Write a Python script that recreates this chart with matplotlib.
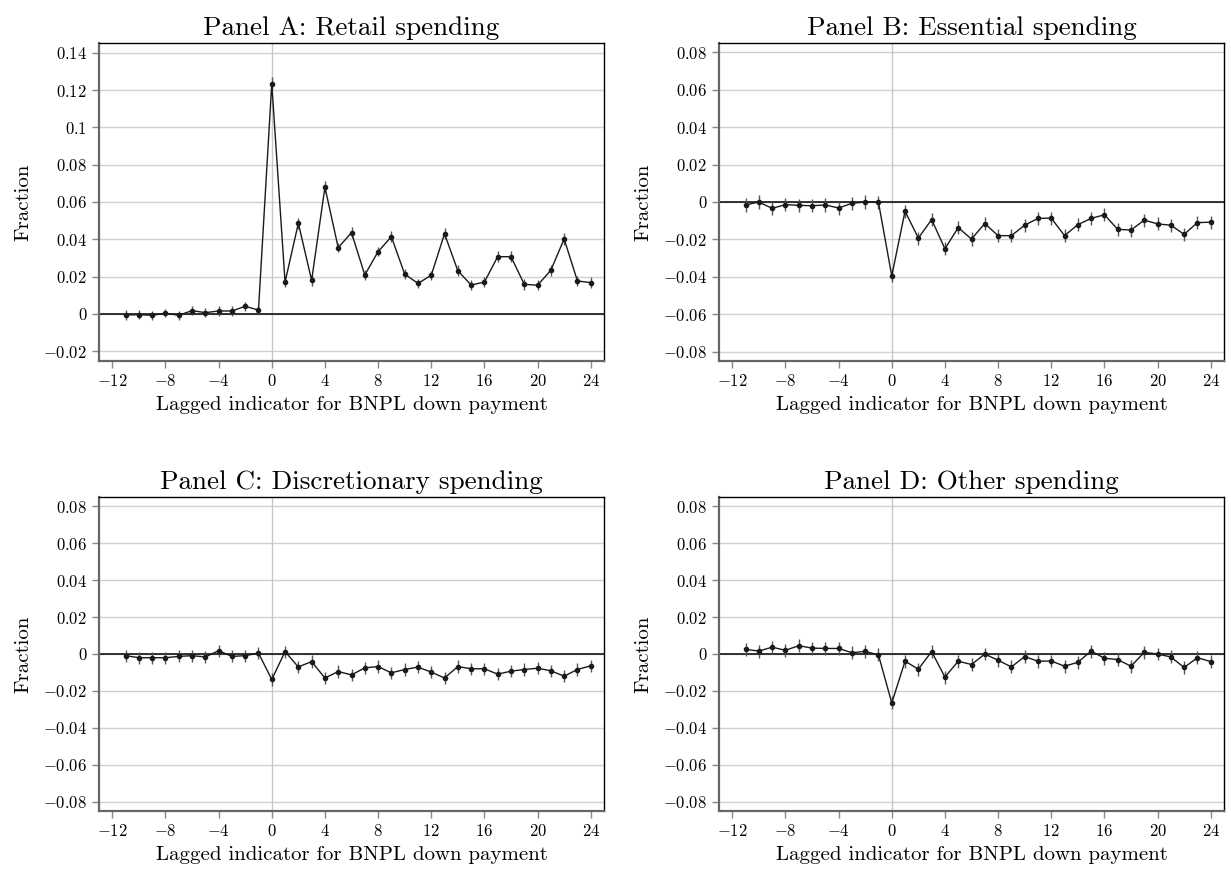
import matplotlib
matplotlib.use("Agg")
import matplotlib.pyplot as plt
from matplotlib.ticker import FuncFormatter
import numpy as np

plt.rcParams['font.family'] = 'serif'
plt.rcParams['font.serif'] = ['cmr10', 'DejaVu Serif']
plt.rcParams['mathtext.fontset'] = 'cm'
plt.rcParams['axes.unicode_minus'] = False

# Event-time lags
lags = list(range(-11, 25))

# Panel A: Retail spending
retail = [-0.0005, -0.0004, -0.0007, 0.0004, -0.0007, 0.0018, 0.0007, 0.0016, 0.0016, 0.0041, 0.0021,
          0.1234, 0.0171, 0.0486, 0.0180, 0.0680, 0.0355, 0.0436, 0.0209, 0.0334, 0.0414, 0.0214,
          0.0164, 0.0207, 0.0430, 0.0232, 0.0155, 0.0171, 0.0307, 0.0307, 0.0159, 0.0154, 0.0234,
          0.0402, 0.0177, 0.0168]
retail_ci = [0.0025, 0.0025, 0.0025, 0.0022, 0.0025, 0.0025, 0.0025, 0.0025, 0.0025, 0.0025, 0.0020,
             0.0035, 0.0028, 0.0028, 0.0028, 0.0030, 0.0025, 0.0028, 0.0028, 0.0025, 0.0028, 0.0025,
             0.0025, 0.0025, 0.0030, 0.0028, 0.0028, 0.0028, 0.0028, 0.0028, 0.0028, 0.0028, 0.0028,
             0.0030, 0.0028, 0.0028]

# Panel B: Essential spending
essential = [-0.0016, 0.0000, -0.0034, -0.0014, -0.0018, -0.0020, -0.0016, -0.0032, -0.0007, 0.0000, -0.0002,
             -0.0395, -0.0049, -0.0193, -0.0094, -0.0250, -0.0137, -0.0198, -0.0115, -0.0180, -0.0180, -0.0124,
             -0.0088, -0.0086, -0.0180, -0.0121, -0.0088, -0.0068, -0.0146, -0.0150, -0.0097, -0.0117, -0.0124,
             -0.0173, -0.0110, -0.0108]
essential_ci = [0.0035] * 36

# Panel C: Discretionary spending
discretionary = [-0.0009, -0.0020, -0.0020, -0.0020, -0.0013, -0.0009, -0.0016, 0.0018, -0.0013, -0.0009, 0.0005,
                 -0.0138, 0.0013, -0.0070, -0.0041, -0.0130, -0.0095, -0.0113, -0.0075, -0.0068, -0.0102, -0.0084,
                 -0.0071, -0.0098, -0.0130, -0.0068, -0.0080, -0.0080, -0.0109, -0.0093, -0.0084, -0.0077, -0.0091,
                 -0.0120, -0.0084, -0.0064]
discretionary_ci = [0.0033] * 36

# Panel D: Other spending
other = [0.0025, 0.0016, 0.0037, 0.0020, 0.0045, 0.0032, 0.0030, 0.0030, 0.0007, 0.0014, -0.0005,
         -0.0265, -0.0039, -0.0082, 0.0013, -0.0125, -0.0039, -0.0057, 0.0000, -0.0034, -0.0070, -0.0014,
         -0.0039, -0.0038, -0.0066, -0.0045, 0.0016, -0.0023, -0.0030, -0.0066, 0.0009, 0.0000, -0.0016,
         -0.0073, -0.0020, -0.0041]
other_ci = [0.0035] * 36

titles = ['Panel A: Retail spending', 'Panel B: Essential spending',
          'Panel C: Discretionary spending', 'Panel D: Other spending']
series = [retail, essential, discretionary, other]
cis = [retail_ci, essential_ci, discretionary_ci, other_ci]
xticks = list(range(-12, 25, 4))
yticks_a = [-0.02, 0, 0.02, 0.04, 0.06, 0.08, 0.1, 0.12, 0.14]
yticks_rest = [-0.08, -0.06, -0.04, -0.02, 0, 0.02, 0.04, 0.06, 0.08]

W, H = 1231, 876
fig = plt.figure(figsize=(W / 100, H / 100), dpi=100)

# pixel boxes: left, top, right, bottom
boxes = [(99, 43, 604, 361), (719, 43, 1224, 361),
         (99, 497, 604, 811), (719, 497, 1224, 811)]

fmt = FuncFormatter(lambda v, p: '$%g$' % round(v, 4))

for i in range(4):
    l, t, r, b = boxes[i]
    ax = fig.add_axes([l / W, (H - b) / H, (r - l) / W, (b - t) / H])
    y = np.array(series[i])
    ci = np.array(cis[i])

    yt = yticks_a if i == 0 else yticks_rest
    for v in yt:
        ax.axhline(v, color='#d0d0d0', lw=1.0, zorder=0)
    ax.axvline(0, color='#c8c8c8', lw=1.0, zorder=0)
    ax.axhline(0, color='black', lw=1.1, zorder=1)

    ax.vlines(lags, y - ci, y + ci, color='#555555', lw=1.0, zorder=2)
    ax.plot(lags, y, color='#1a1a1a', lw=1.0, marker='o', ms=3.0, zorder=3)

    ax.set_xlim(-13, 25)
    if i == 0:
        ax.set_ylim(-0.0252, 0.1452)
    else:
        ax.set_ylim(-0.085, 0.085)
    ax.set_xticks(xticks)
    ax.set_yticks(yt)
    ax.xaxis.set_major_formatter(fmt)
    ax.yaxis.set_major_formatter(fmt)
    ax.tick_params(axis='both', labelsize=12, length=5, color='#888888', width=1)
    ax.tick_params(axis='x', pad=4)

    for s in ['left', 'bottom']:
        ax.spines[s].set_color('#666666')
        ax.spines[s].set_linewidth(1.6)
    for s in ['top', 'right']:
        ax.spines[s].set_color('black')
        ax.spines[s].set_linewidth(1.0)

    ax.set_title(titles[i], fontsize=19.5, pad=6)
    ax.set_xlabel('Lagged indicator for BNPL down payment', fontsize=15, labelpad=5)
    ax.set_ylabel('Fraction', fontsize=15, labelpad=8)

plt.savefig('out.png', dpi=100)
